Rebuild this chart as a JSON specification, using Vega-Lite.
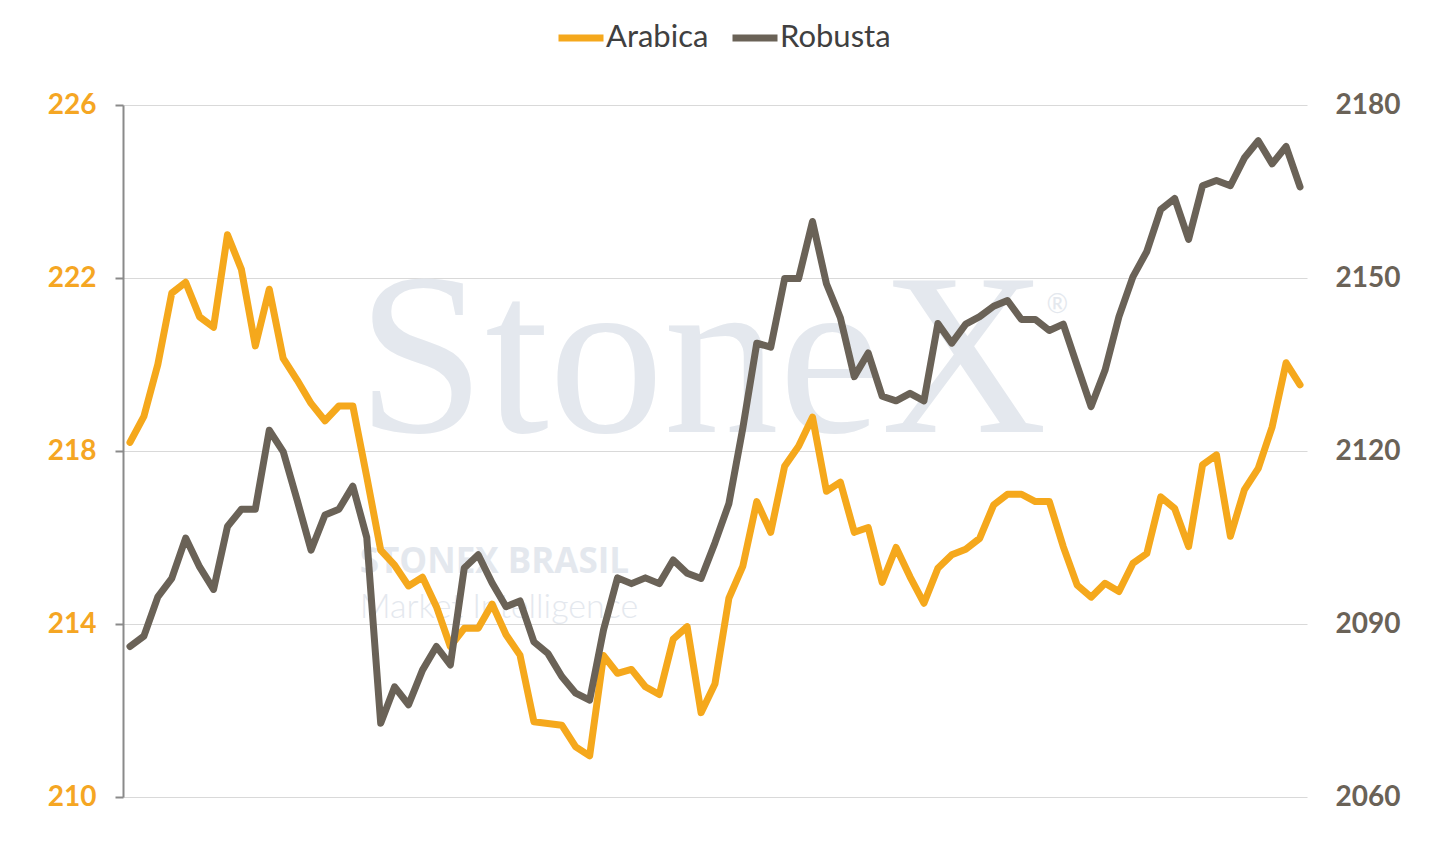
{
  "$schema": "https://vega.github.io/schema/vega-lite/v6.json",
  "width": 1184,
  "height": 692,
  "autosize": {"type": "none"},
  "padding": {"left": 123, "top": 105, "right": 137, "bottom": 66},
  "background": "white",
  "config": {"view": {"stroke": null}, "font": "Lato"},
  "datasets": {
    "prices": [
      {"i": 1, "arabica": 218.2, "robusta": 2086.1},
      {"i": 2, "arabica": 218.8, "robusta": 2087.9},
      {"i": 3, "arabica": 220.0, "robusta": 2094.7},
      {"i": 4, "arabica": 221.65, "robusta": 2097.9},
      {"i": 5, "arabica": 221.9, "robusta": 2104.9},
      {"i": 6, "arabica": 221.1, "robusta": 2099.9},
      {"i": 7, "arabica": 220.86, "robusta": 2096.0},
      {"i": 8, "arabica": 223.0, "robusta": 2106.9},
      {"i": 9, "arabica": 222.2, "robusta": 2109.9},
      {"i": 10, "arabica": 220.43, "robusta": 2109.9},
      {"i": 11, "arabica": 221.74, "robusta": 2123.6},
      {"i": 12, "arabica": 220.14, "robusta": 2119.9},
      {"i": 13, "arabica": 219.64, "robusta": 2111.5},
      {"i": 14, "arabica": 219.1, "robusta": 2102.8},
      {"i": 15, "arabica": 218.7, "robusta": 2108.9},
      {"i": 16, "arabica": 219.04, "robusta": 2109.9},
      {"i": 17, "arabica": 219.04, "robusta": 2113.9},
      {"i": 18, "arabica": 217.4, "robusta": 2105.0},
      {"i": 19, "arabica": 215.71, "robusta": 2072.8},
      {"i": 20, "arabica": 215.36, "robusta": 2079.1},
      {"i": 21, "arabica": 214.88, "robusta": 2076.0},
      {"i": 22, "arabica": 215.08, "robusta": 2082.0},
      {"i": 23, "arabica": 214.4, "robusta": 2086.1},
      {"i": 24, "arabica": 213.48, "robusta": 2082.9},
      {"i": 25, "arabica": 213.9, "robusta": 2099.7},
      {"i": 26, "arabica": 213.9, "robusta": 2102.0},
      {"i": 27, "arabica": 214.46, "robusta": 2097.1},
      {"i": 28, "arabica": 213.75, "robusta": 2093.0},
      {"i": 29, "arabica": 213.28, "robusta": 2094.0},
      {"i": 30, "arabica": 211.74, "robusta": 2086.9},
      {"i": 31, "arabica": 211.7, "robusta": 2084.9},
      {"i": 32, "arabica": 211.66, "robusta": 2080.9},
      {"i": 33, "arabica": 211.16, "robusta": 2078.0},
      {"i": 34, "arabica": 210.95, "robusta": 2076.8},
      {"i": 35, "arabica": 213.27, "robusta": 2089.0},
      {"i": 36, "arabica": 212.86, "robusta": 2098.0},
      {"i": 37, "arabica": 212.95, "robusta": 2097.0},
      {"i": 38, "arabica": 212.55, "robusta": 2098.0},
      {"i": 39, "arabica": 212.37, "robusta": 2097.0},
      {"i": 40, "arabica": 213.65, "robusta": 2101.1},
      {"i": 41, "arabica": 213.94, "robusta": 2098.8},
      {"i": 42, "arabica": 211.95, "robusta": 2097.9},
      {"i": 43, "arabica": 212.62, "robusta": 2104.1},
      {"i": 44, "arabica": 214.6, "robusta": 2110.9},
      {"i": 45, "arabica": 215.34, "robusta": 2124.0},
      {"i": 46, "arabica": 216.83, "robusta": 2138.7},
      {"i": 47, "arabica": 216.12, "robusta": 2138.0},
      {"i": 48, "arabica": 217.65, "robusta": 2149.9},
      {"i": 49, "arabica": 218.11, "robusta": 2149.9},
      {"i": 50, "arabica": 218.78, "robusta": 2159.8},
      {"i": 51, "arabica": 217.07, "robusta": 2149.0},
      {"i": 52, "arabica": 217.28, "robusta": 2143.1},
      {"i": 53, "arabica": 216.12, "robusta": 2132.9},
      {"i": 54, "arabica": 216.23, "robusta": 2137.0},
      {"i": 55, "arabica": 214.96, "robusta": 2129.5},
      {"i": 56, "arabica": 215.77, "robusta": 2128.7},
      {"i": 57, "arabica": 215.09, "robusta": 2130.0},
      {"i": 58, "arabica": 214.48, "robusta": 2128.7},
      {"i": 59, "arabica": 215.29, "robusta": 2142.1},
      {"i": 60, "arabica": 215.6, "robusta": 2138.7},
      {"i": 61, "arabica": 215.73, "robusta": 2142.0},
      {"i": 62, "arabica": 215.98, "robusta": 2143.3},
      {"i": 63, "arabica": 216.75, "robusta": 2145.1},
      {"i": 64, "arabica": 217.0, "robusta": 2146.1},
      {"i": 65, "arabica": 217.0, "robusta": 2142.8},
      {"i": 66, "arabica": 216.83, "robusta": 2142.8},
      {"i": 67, "arabica": 216.83, "robusta": 2140.9},
      {"i": 68, "arabica": 215.79, "robusta": 2142.0},
      {"i": 69, "arabica": 214.9, "robusta": 2134.8},
      {"i": 70, "arabica": 214.62, "robusta": 2127.7},
      {"i": 71, "arabica": 214.94, "robusta": 2134.0},
      {"i": 72, "arabica": 214.75, "robusta": 2143.3},
      {"i": 73, "arabica": 215.4, "robusta": 2150.2},
      {"i": 74, "arabica": 215.63, "robusta": 2154.6},
      {"i": 75, "arabica": 216.94, "robusta": 2161.9},
      {"i": 76, "arabica": 216.67, "robusta": 2163.8},
      {"i": 77, "arabica": 215.79, "robusta": 2156.7},
      {"i": 78, "arabica": 217.68, "robusta": 2166.0},
      {"i": 79, "arabica": 217.91, "robusta": 2166.9},
      {"i": 80, "arabica": 216.03, "robusta": 2166.0},
      {"i": 81, "arabica": 217.1, "robusta": 2170.8},
      {"i": 82, "arabica": 217.6, "robusta": 2173.8},
      {"i": 83, "arabica": 218.56, "robusta": 2169.8},
      {"i": 84, "arabica": 220.04, "robusta": 2172.8},
      {"i": 85, "arabica": 219.53, "robusta": 2165.8}
    ]
  },
  "layer": [
    {
      "data": {"values": [{"t": "StoneX"}]},
      "mark": {"type": "text", "font": "Liberation Serif", "fontSize": 230, "color": "#e4e8ee", "align": "left", "baseline": "alphabetic"},
      "encoding": {
        "x": {"datum": 17.3, "type": "quantitative", "scale": {"domain": [0.5, 85.5], "nice": false, "zero": false}, "axis": null},
        "y": {"datum": 0.528, "type": "quantitative", "scale": {"domain": [0, 1], "nice": false, "zero": false}, "axis": null},
        "text": {"field": "t"}
      }
    },
    {
      "data": {"values": [{"t": "®"}]},
      "mark": {"type": "text", "font": "Lato", "fontSize": 26, "color": "#e4e8ee", "align": "left", "baseline": "alphabetic"},
      "encoding": {
        "x": {"datum": 66.8, "type": "quantitative", "axis": null},
        "y": {"datum": 0.7, "type": "quantitative", "scale": {"domain": [0, 1], "nice": false, "zero": false}, "axis": null},
        "text": {"field": "t"}
      }
    },
    {
      "data": {"values": [{"t": "STONEX BRASIL"}]},
      "mark": {"type": "text", "font": "Open Sans", "fontWeight": "bold", "fontSize": 35, "color": "#e4e8ee", "align": "left", "baseline": "alphabetic"},
      "encoding": {
        "x": {"datum": 17.5, "type": "quantitative", "axis": null},
        "y": {"datum": 0.3237, "type": "quantitative", "scale": {"domain": [0, 1], "nice": false, "zero": false}, "axis": null},
        "text": {"field": "t"}
      }
    },
    {
      "data": {"values": [{"t": "Market Intelligence"}]},
      "mark": {"type": "text", "font": "Lato", "fontWeight": 300, "fontSize": 34, "color": "#e4e8ee", "align": "left", "baseline": "alphabetic"},
      "encoding": {
        "x": {"datum": 17.5, "type": "quantitative", "axis": null},
        "y": {"datum": 0.259, "type": "quantitative", "scale": {"domain": [0, 1], "nice": false, "zero": false}, "axis": null},
        "text": {"field": "t"}
      }
    },
    {
      "data": {"name": "prices"},
      "mark": {"type": "line", "strokeWidth": 7, "strokeJoin": "round", "strokeCap": "round"},
      "encoding": {
        "x": {"field": "i", "type": "quantitative", "axis": null},
        "y": {
          "field": "arabica", "type": "quantitative",
          "scale": {"domain": [210, 226], "nice": false, "zero": false},
          "axis": {
            "orient": "left", "title": null, "values": [210, 214, 218, 222, 226], "format": "d",
            "labelColor": "#F5A623", "labelFont": "Lato", "labelFontSize": 28, "labelFontWeight": "bold",
            "labelPadding": 19, "grid": true, "gridColor": "#d9d9d9", "gridWidth": 1,
            "domain": true, "domainColor": "#8a8a8a", "domainWidth": 2,
            "ticks": true, "tickColor": "#8a8a8a", "tickWidth": 2, "tickSize": 8
          }
        },
        "color": {
          "datum": "Arabica", "type": "nominal",
          "scale": {"domain": ["Arabica", "Robusta"], "range": ["#F5A81C", "#6A6257"]},
          "legend": {
            "orient": "none", "legendX": 432, "legendY": -93, "direction": "horizontal", "title": null,
            "symbolType": "stroke", "symbolStrokeWidth": 7, "symbolSize": 2025,
            "labelFont": "Lato", "labelFontSize": 31, "labelColor": "#404040",
            "columnPadding": 9, "labelOffset": -1
          }
        }
      }
    },
    {
      "data": {"name": "prices"},
      "mark": {"type": "line", "strokeWidth": 7, "strokeJoin": "round", "strokeCap": "round"},
      "encoding": {
        "x": {"field": "i", "type": "quantitative", "axis": null},
        "y": {
          "field": "robusta", "type": "quantitative",
          "scale": {"domain": [2060, 2180], "nice": false, "zero": false},
          "axis": {
            "orient": "right", "title": null, "values": [2060, 2090, 2120, 2150, 2180], "format": "d",
            "labelColor": "#6A6257", "labelFont": "Lato", "labelFontSize": 28, "labelFontWeight": "bold",
            "labelPadding": 28, "grid": false, "domain": false, "ticks": false, "tickSize": 0
          }
        },
        "color": {"datum": "Robusta", "type": "nominal"}
      }
    }
  ],
  "resolve": {"scale": {"y": "independent"}}
}
